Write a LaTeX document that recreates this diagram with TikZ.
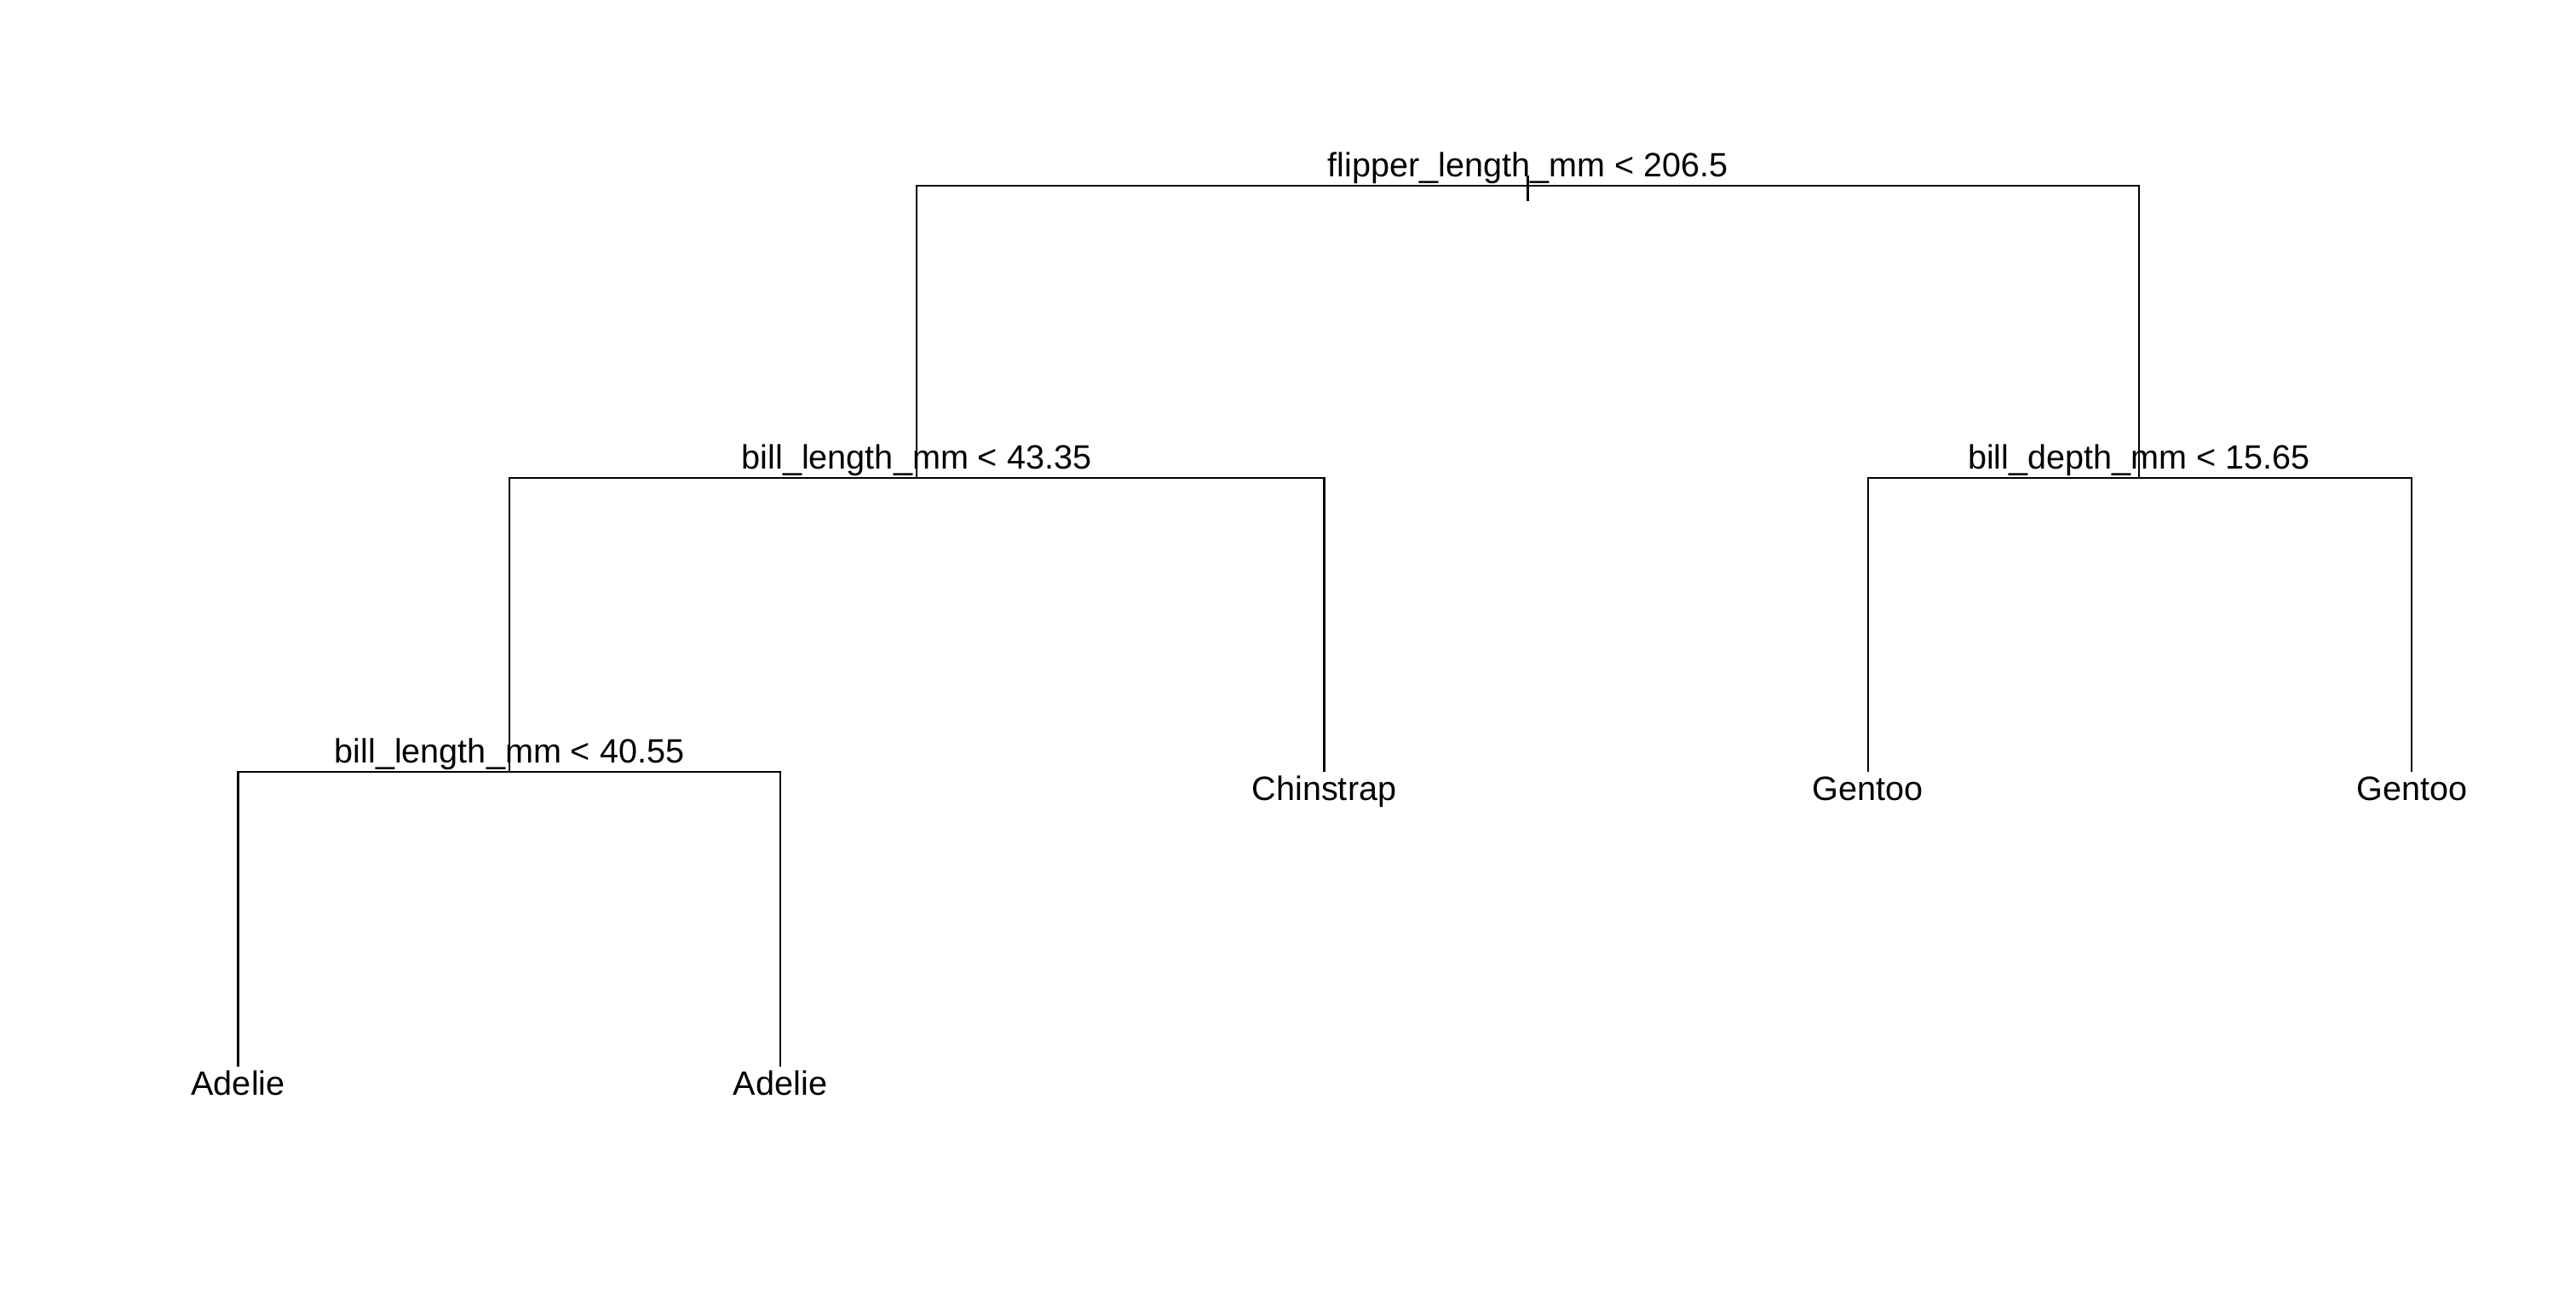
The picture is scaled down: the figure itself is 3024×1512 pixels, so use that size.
\documentclass[tikz,border=0pt]{standalone}
\usepackage{fontspec}
\setmainfont{Liberation Sans}
\begin{document}
\begin{tikzpicture}[x=1pt,y=-1pt,line width=2.4pt,
  lbl/.style={font=\fontsize{39.6}{48}\selectfont,inner sep=0pt,anchor=base}]
\useasboundingbox (0,0) rectangle (3024,1512);
% split points
\coordinate (r) at (1793.6,218);
\coordinate (a) at (1076,561);
\coordinate (b) at (2511,561);
\coordinate (c) at (598,906);
% leaf ends
\coordinate (chin) at (1554.5,906);
\coordinate (g1) at (2192.8,906);
\coordinate (g2) at (2831.2,906);
\coordinate (ad1) at (279.6,1252);
\coordinate (ad2) at (916,1252);
% branches
\draw (a) |- (r) -| (b);
\draw (c) |- (a) -| (chin);
\draw (g1) |- (b) -| (g2);
\draw (ad1) |- (c) -| (ad2);
\draw (r) ++(0,-12) -- ++(0,30);
% split labels
\node[lbl] (rl) at ([yshift=11pt]r) {flipper\_length\_mm < 206.5};
\node[lbl] (al) at ([yshift=11pt]a) {bill\_length\_mm < 43.35};
\node[lbl] (bl) at ([yshift=11pt]b) {bill\_depth\_mm < 15.65};
\node[lbl] (cl) at ([yshift=11pt]c) {bill\_length\_mm < 40.55};
% leaf labels
\node[lbl] (chinl) at ([yshift=-33pt]chin) {Chinstrap};
\node[lbl] (g1l) at ([yshift=-33pt]g1) {Gentoo};
\node[lbl] (g2l) at ([yshift=-33pt]g2) {Gentoo};
\node[lbl] (ad1l) at ([yshift=-33pt]ad1) {Adelie};
\node[lbl] (ad2l) at ([yshift=-33pt]ad2) {Adelie};
\end{tikzpicture}
\end{document}
